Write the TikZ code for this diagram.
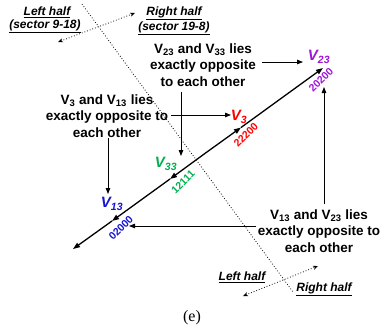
\documentclass[tikz,border=0pt]{standalone}
\usepackage{fontspec}
\setmainfont{Liberation Serif}
\setsansfont{Liberation Sans}
\usetikzlibrary{arrows.meta}
\definecolor{vred}{RGB}{255,0,0}
\definecolor{vgreen}{RGB}{0,176,80}
\definecolor{vblue}{RGB}{20,20,210}
\definecolor{vpurple}{RGB}{160,20,215}
\tikzset{
  note/.style={font=\sffamily\bfseries\fontsize{13.5}{16.5}\selectfont, align=center, inner sep=0pt},
  half/.style={font=\sffamily\bfseries\itshape\fontsize{12}{14}\selectfont, align=center, inner sep=0pt},
  vlab/.style={font=\sffamily\bfseries\itshape\fontsize{15}{17}\selectfont, inner sep=0pt},
  code/.style={font=\sffamily\bfseries\fontsize{10.5}{12}\selectfont, rotate=45, inner sep=0pt},
  mainarr/.style={line width=1.3pt, -{Triangle[length=7pt,width=5pt]}},
  mainseg/.style={line width=1.3pt},
  ptr/.style={line width=0.8pt, -{Triangle[length=6pt,width=4.5pt]}},
  dots/.style={line width=0.8pt, dotted},
  dotarr/.style={line width=0.8pt, dotted, {Stealth[length=5pt,width=4pt]}-{Stealth[length=5pt,width=4pt]}},
}
\begin{document}
\begin{tikzpicture}[x=1pt,y=-1pt]
\useasboundingbox (0,0) rectangle (385,329);
% main line points
\coordinate (tipUR) at (323,68);
\coordinate (tipLL) at (73,249);
\coordinate (mid) at (205,153.4);
\coordinate (p3) at (241,127.5);
\coordinate (p33) at (170,179);
\coordinate (p13) at (112,221);
\draw[mainarr] (mid) -- (p3);
\draw[mainarr] (p3) -- (tipUR);
\draw[mainarr] (mid) -- (p33);
\draw[mainarr] (p33) -- (p13);
\draw[mainarr] (p13) -- (tipLL);

% dotted divider
\coordinate (dA) at (82,4);
\coordinate (dB) at (293,292);
\draw[dots] (dA) -- (dB);

% top halves
\node[half] (lh1) at (47,12) {\underline{Left half}};
\node[half] (lh2) at (45,26) {\underline{(sector 9-18)}};
\node[half] (rh1) at (174,13) {\underline{Right half}};
\node[half] (rh2) at (174,28) {\underline{(sector 19-8)}};
\coordinate (ta) at (58,42);
\coordinate (tb) at (135,13);
\draw[dotarr] (ta) -- (tb);

% bottom halves
\node[half] (lh3) at (242,277) {\underline{Left half}};
\node[half] (rh3) at (324,289) {\underline{Right half}};
\coordinate (ba) at (243,296);
\coordinate (bb) at (318,266);
\draw[dotarr] (ba) -- (bb);

% notes
\node[note] (n1) at (203,65) {V\textsubscript{23} and V\textsubscript{33} lies\\exactly opposite\\to each other};
\node[note] (n2) at (107,116) {V\textsubscript{3} and V\textsubscript{13} lies\\exactly opposite to\\each other};
\node[note] (n3) at (319,231) {V\textsubscript{13} and V\textsubscript{23} lies\\exactly opposite to\\each other};

% labels
\node[vlab, text=vpurple] (v23) at (319,57) {V\textsubscript{23}};
\node[code, text=vpurple] (c23) at (321,80) {20200};
\node[vlab, text=vred] (v3) at (239,117) {V\textsubscript{3}};
\node[code, text=vred] (c3) at (246,135) {22200};
\node[vlab, text=vgreen] (v33) at (166,164) {V\textsubscript{33}};
\node[code, text=vgreen] (c33) at (183,182) {12111};
\node[vlab, text=vblue] (v13) at (112,204) {V\textsubscript{13}};
\node[code, text=vblue] (c13) at (121,228) {02000};

% pointers
\coordinate (a1s) at (262,62);
\coordinate (a1e) at (303,62);
\draw[ptr] (a1s) -- (a1e);
\coordinate (a2s) at (181,92);
\coordinate (a2e) at (181,156);
\draw[ptr] (a2s) -- (a2e);
\coordinate (a3s) at (171,115);
\coordinate (a3e) at (231,115);
\draw[ptr] (a3s) -- (a3e);
\coordinate (a4s) at (108,138);
\coordinate (a4e) at (108,194);
\draw[ptr] (a4s) -- (a4e);
\coordinate (a5s) at (324,204);
\coordinate (a5e) at (324,87);
\draw[ptr] (a5s) -- (a5e);
\coordinate (a6s) at (256,226);
\coordinate (a6e) at (129,226);
\draw[ptr] (a6s) -- (a6e);

\node[font=\fontsize{16}{18}\selectfont, inner sep=0pt] (cap) at (192,318) {(e)};
\end{tikzpicture}
\end{document}
